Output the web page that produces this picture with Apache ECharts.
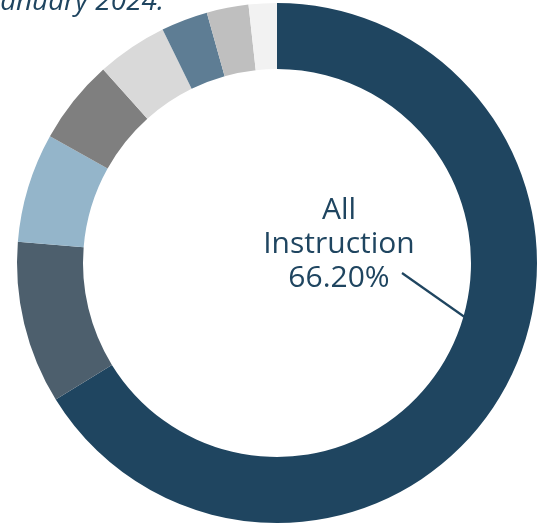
<!DOCTYPE html>
<html>
<head>
<meta charset="utf-8">
<script src="https://cdn.jsdelivr.net/npm/echarts@6/dist/echarts.min.js"></script>
<style>html,body{margin:0;padding:0;background:#fff;}#c{width:547px;height:525px;}</style>
</head>
<body>
<div id="c"></div>
<script>
const categories = ['All Instruction', 'Category 2', 'Category 3', 'Category 4', 'Category 5', 'Category 6', 'Category 7', 'Category 8'];
const values = [66.20, 10.1, 6.8, 5.25, 4.4, 2.9, 2.6, 1.75];
const colors = ['#1f4560', '#4d5f6d', '#94b5ca', '#7f7f7f', '#d9d9d9', '#5e7d94', '#bfbfbf', '#f2f2f2'];
const titleText = 'January 2024.';

const chart = echarts.init(document.getElementById('c'), null, {renderer: 'canvas'});
chart.setOption({
  backgroundColor: '#fff',
  animation: false,
  graphic: [
    {type: 'text', right: 383, top: -12, style: {text: titleText, font: 'italic 28px "Open Sans"', fill: '#1f4560'}},
    {type: 'line', shape: {x1: 402, y1: 273, x2: 466, y2: 318}, style: {stroke: '#1f4560', lineWidth: 2.2}}
  ],
  series: [{
    type: 'pie',
    center: [277, 263],
    radius: [194, 260],
    startAngle: 90,
    clockwise: true,
    avoidLabelOverlap: false,
    labelLine: {show: false},
    data: categories.map((c, i) => ({
      name: c,
      value: values[i],
      itemStyle: {color: colors[i]},
      label: i === 0 ? {
        show: true, position: 'center',
        formatter: 'All\nInstruction\n' + values[0].toFixed(2) + '%',
        fontFamily: 'Open Sans', fontSize: 30, lineHeight: 34, color: '#1f4560'
      } : {show: false}
    })),
    labelLayout: function (p) { return p.dataIndex === 0 ? {dx: 62, dy: -19} : {}; }
  }]
});
</script>
</body>
</html>
